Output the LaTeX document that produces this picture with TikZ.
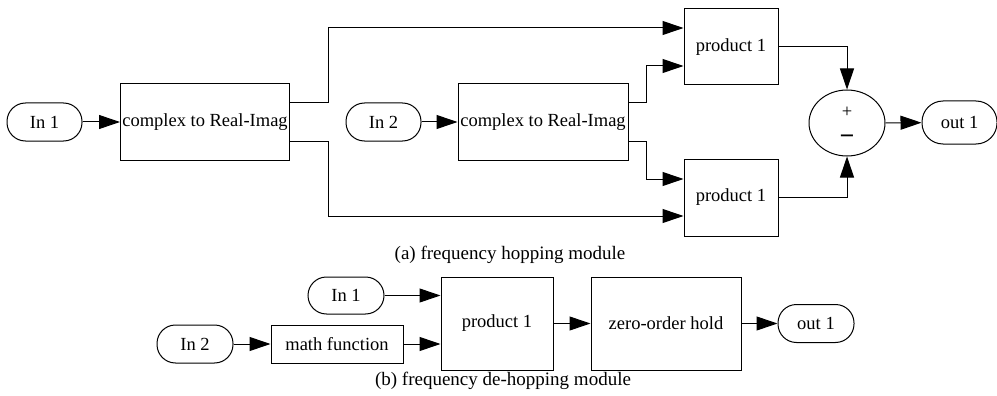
\documentclass[tikz,border=0pt]{standalone}
\usepackage{fontspec}
\setmainfont{Liberation Serif}
\usetikzlibrary{arrows.meta,shapes.geometric,calc}
\begin{document}
\begin{tikzpicture}[x=1pt,y=-1pt,
  every node/.style={font=\fontsize{18.5}{20}\selectfont, inner sep=0pt},
  blk/.style={draw, line width=1pt, rectangle},
  term/.style={draw, line width=1pt, rectangle, minimum width=75pt, minimum height=38pt, rounded corners=18.5pt},
  sumnode/.style={draw, line width=1pt, ellipse, minimum width=76pt, minimum height=66pt},
  arr/.style={line width=1pt, -{Triangle[length=21pt,width=14pt]}},
  captext/.style={font=\fontsize{19}{21}\selectfont}
]
\useasboundingbox (0,0) rectangle (997,396);
% ---------- (a) ----------
\node[term] (in1a) at (44.5,122) {In 1};
\node[blk, minimum width=169pt, minimum height=76pt] (c1) at (205,122) {complex to Real-Imag};
\node[term] (in2a) at (383.5,122) {In 2};
\node[blk, minimum width=170pt, minimum height=76pt] (c2) at (543,122) {complex to Real-Imag};
\node[blk, minimum width=94pt, minimum height=76pt] (p1) at (731,47) {product 1};
\node[blk, minimum width=94pt, minimum height=77pt] (p2) at (731,197.5) {product 1};
\node[sumnode] (sum) at (847,123) {};
\node (plus) at (847,112) {+};
\node[font=\fontsize{26}{26}\selectfont\bfseries] (minus) at (847,140) {−};
\node[term, minimum height=43pt, rounded corners=21pt] (out1a) at (959.5,122.5) {out 1};

\draw[arr] (in1a) -- (c1);
\draw[arr] (in2a) -- (c2);
\draw[arr] ([yshift=19pt]c1.east) -- ++(38,0) |- ([yshift=19pt]p1.west);
\draw[arr] ([yshift=-19pt]c1.east) -- ++(38,0) |- ([yshift=-18.5pt]p2.west);
\draw[arr] ([yshift=19pt]c2.east) -- ++(18,0) |- ([yshift=-19pt]p1.west);
\draw[arr] ([yshift=-19pt]c2.east) -- ++(18,0) |- ([yshift=18.5pt]p2.west);
\draw[arr] (p1.east) -| (sum.north);
\draw[arr] (p2.east) -| (sum.south);
\draw[arr] (sum) -- (out1a);

\node[captext] (capa) at (510,255) {(a) frequency hopping module};

% ---------- (b) ----------
\node[term, minimum width=76pt, minimum height=37pt] (in1b) at (346,295.5) {In 1};
\node[term, minimum width=76pt] (in2b) at (195,344) {In 2};
\node[blk, minimum width=132pt, minimum height=38pt] (mf) at (337,344) {math function};
\node[blk, minimum width=112pt, minimum height=93pt] (pb) at (497,323.5) {product 1};
\node[blk, minimum width=150pt, minimum height=93pt] (zoh) at (666,323.5) {zero-order hold};
\node[term, minimum width=76pt] (out1b) at (816,323.5) {out 1};

\draw[arr] (in1b) -- (in1b -| pb.west);
\draw[arr] (in2b) -- (mf);
\draw[arr] (mf) -- (mf -| pb.west);
\draw[arr] (pb) -- (zoh);
\draw[arr] (zoh) -- (out1b);

\node[captext] (capb) at (503,381) {(b) frequency de-hopping module};
\end{tikzpicture}
\end{document}
